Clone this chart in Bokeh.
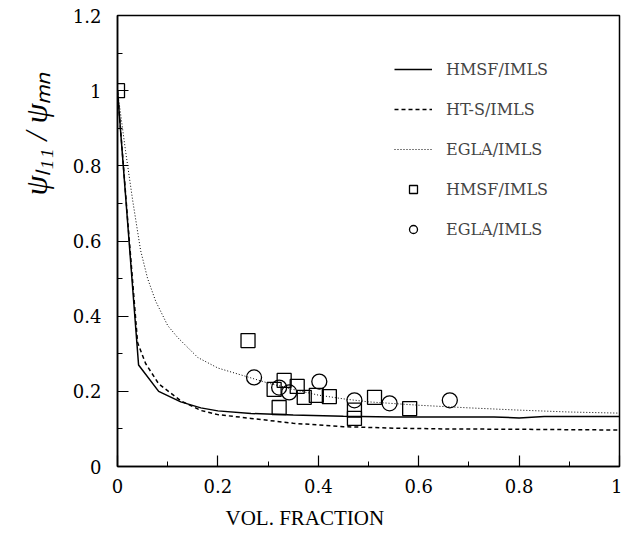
from bokeh.plotting import figure
from bokeh.models import Range1d, Legend, LegendItem, FixedTicker, Title
from bokeh.embed import file_html
from bokeh.resources import INLINE

# ---- data ----
hmsf_x = [0.0, 0.042, 0.082, 0.126, 0.166, 0.2, 0.266, 0.35, 0.45, 0.55, 0.65, 0.75, 0.8, 0.85, 1.0]
hmsf_y = [1.0, 0.27, 0.2, 0.172, 0.156, 0.148, 0.141, 0.137, 0.134, 0.132, 0.132, 0.132, 0.129, 0.133, 0.133]

hts_x = [0.0, 0.02, 0.04, 0.056, 0.082, 0.126, 0.166, 0.2, 0.266, 0.35, 0.45, 0.55, 0.65, 0.8, 1.0]
hts_y = [1.0, 0.66, 0.33, 0.274, 0.22, 0.175, 0.149, 0.138, 0.128, 0.115, 0.106, 0.102, 0.1, 0.099, 0.097]

egla_x = [0.0, 0.008, 0.016, 0.03, 0.046, 0.06, 0.076, 0.1, 0.12, 0.16, 0.2, 0.25, 0.3, 0.35, 0.4, 0.45, 0.5, 0.6, 0.7, 0.8, 0.9, 1.0]
egla_y = [1.0, 0.92, 0.84, 0.71, 0.575, 0.5, 0.44, 0.375, 0.343, 0.29, 0.262, 0.242, 0.222, 0.205, 0.19, 0.18, 0.172, 0.163, 0.156, 0.15, 0.145, 0.142]

sq_x = [0.0, 0.26, 0.332, 0.312, 0.322, 0.358, 0.372, 0.396, 0.422, 0.472, 0.472, 0.512, 0.582]
sq_y = [1.0, 0.335, 0.229, 0.205, 0.157, 0.213, 0.184, 0.189, 0.186, 0.15, 0.128, 0.184, 0.154]

ci_x = [0.272, 0.322, 0.342, 0.402, 0.472, 0.542, 0.662]
ci_y = [0.237, 0.21, 0.197, 0.226, 0.176, 0.168, 0.176]

x_ticks = [0, 0.2, 0.4, 0.6, 0.8, 1]
y_ticks = [0, 0.2, 0.4, 0.6, 0.8, 1, 1.2]
x_tick_labels = {0: "0", 0.2: "0.2", 0.4: "0.4", 0.6: "0.6", 0.8: "0.8", 1: "1"}
y_tick_labels = {0: "0", 0.2: "0.2", 0.4: "0.4", 0.6: "0.6", 0.8: "0.8", 1: "1", 1.2: "1.2"}
legend_labels = ["HMSF/IMLS", "HT-S/IMLS", "EGLA/IMLS", "HMSF/IMLS", "EGLA/IMLS"]
x_title = "VOL. FRACTION"
y_title = "ψₗ₁₁ / ψₘₙ"

SERIF = "DejaVu Serif"

p = figure(width=622, height=538, output_backend="svg", toolbar_location=None,
           x_range=Range1d(0, 1), y_range=Range1d(0, 1.2),
           min_border_left=117, min_border_right=3, min_border_top=15, min_border_bottom=72)
p.grid.visible = False
p.outline_line_color = "black"
p.outline_line_width = 1.5
p.background_fill_color = "white"
p.border_fill_color = "white"

for ax in (p.xaxis[0], p.yaxis[0]):
    ax.axis_line_width = 1.5
    ax.major_tick_in = 11
    ax.major_tick_out = 0
    ax.minor_tick_in = 5
    ax.minor_tick_out = 0
    ax.major_tick_line_width = 1.2
    ax.major_label_text_font = SERIF
    ax.major_label_text_font_size = "18px"
    ax.major_label_text_color = "black"

p.xaxis.ticker = FixedTicker(ticks=x_ticks, minor_ticks=[0.1, 0.3, 0.5, 0.7, 0.9])
p.yaxis.ticker = FixedTicker(ticks=y_ticks, minor_ticks=[0.1, 0.3, 0.5, 0.7, 0.9, 1.1])
p.xaxis.major_label_overrides = x_tick_labels
p.yaxis.major_label_overrides = y_tick_labels
p.xaxis.major_label_standoff = 12
p.yaxis.major_label_standoff = 16

r1 = p.line(hmsf_x, hmsf_y, line_color="black", line_width=1.5)
r2 = p.line(hts_x, hts_y, line_color="black", line_width=1.5, line_dash="4 3")
r3 = p.line(egla_x, egla_y, line_color="black", line_width=1, line_dash="1 2")
r4 = p.scatter(sq_x, sq_y, marker="square", size=14, fill_color=None, line_color="black", line_width=1.3)
r5 = p.scatter(ci_x, ci_y, marker="circle", size=15, fill_color=None, line_color="black", line_width=1.3)

legend = Legend(items=[LegendItem(label=legend_labels[i], renderers=[r]) for i, r in enumerate([r1, r2, r3, r4, r5])],
                location=(267, 217), glyph_width=38, glyph_height=20, label_height=20,
                spacing=20, label_standoff=14, padding=10,
                label_text_font=SERIF, label_text_font_size="16px",
                border_line_alpha=0, background_fill_alpha=0)
p.add_layout(legend)

p.add_layout(Title(text=x_title, align="left", offset=108, standoff=17,
                   text_font="Liberation Serif", text_font_size="21px", text_font_style="normal",
                   text_color="black"), "below")
p.add_layout(Title(text=y_title, align="left", offset=271, standoff=31,
                   text_font="Liberation Serif", text_font_size="32px", text_font_style="italic",
                   text_color="black"), "left")

open("out.html", "w").write(file_html(p, INLINE))
